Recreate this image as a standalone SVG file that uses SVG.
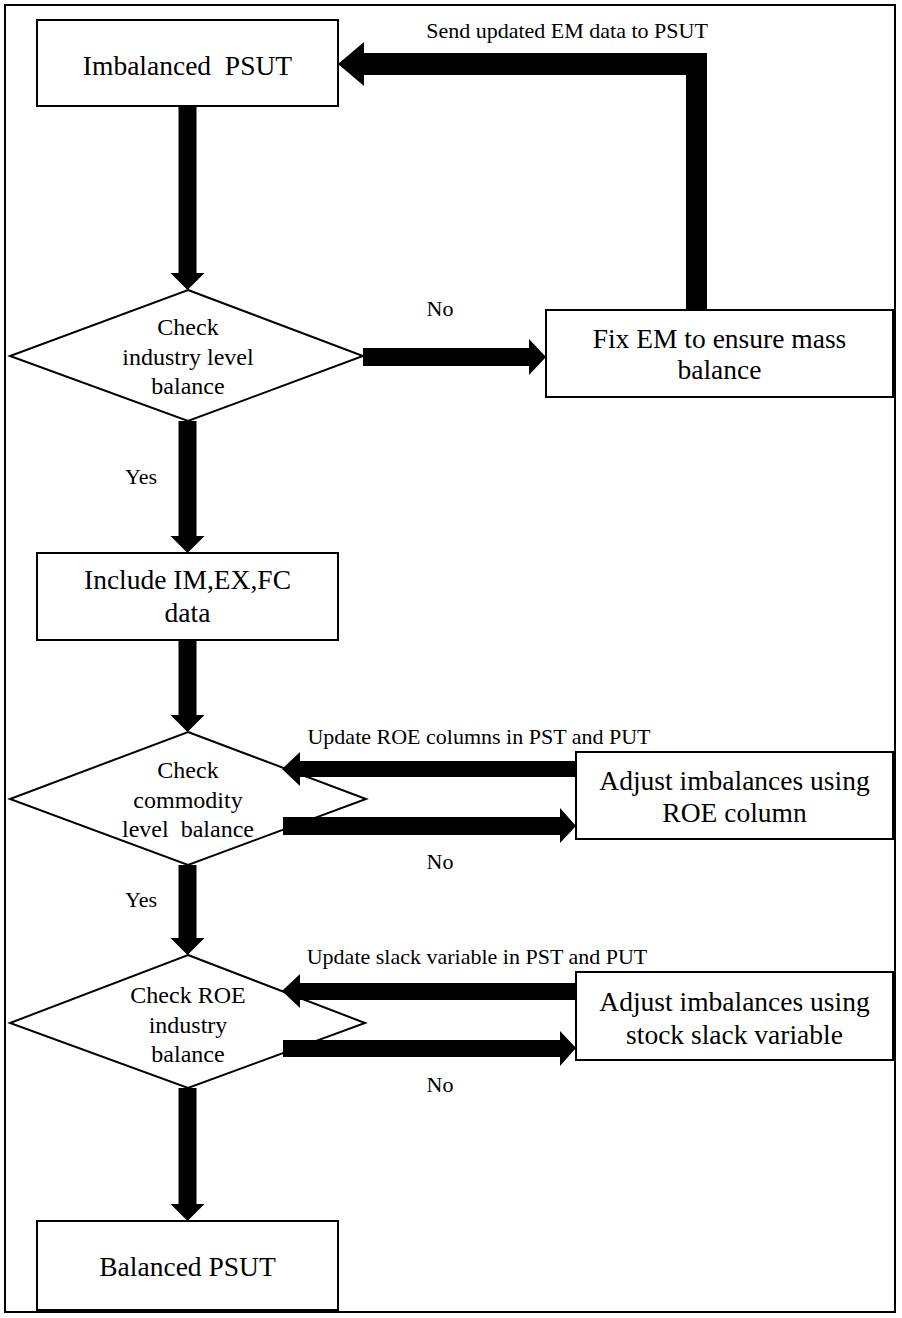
<svg xmlns="http://www.w3.org/2000/svg" width="902" height="1318" viewBox="0 0 902 1318">
<style>
.frame{fill:none;stroke:#000;stroke-width:2}
.box{fill:#fff;stroke:#000;stroke-width:2}
.arrow{fill:#000;stroke:none}
.bt{font-family:"Liberation Serif","Times New Roman",serif;font-size:27.5px;fill:#000;text-anchor:middle}
.dt{font-family:"Liberation Serif","Times New Roman",serif;font-size:24px;fill:#000;text-anchor:middle}
.lb{font-family:"Liberation Serif","Times New Roman",serif;font-size:22px;fill:#000;text-anchor:middle}
</style>
<rect width="902" height="1318" fill="#fff"/>
<rect class="frame" x="5" y="5" width="890" height="1307"/>

<g id="n_imbalanced">
<rect class="box" x="37" y="20" width="301" height="86"/>
<text class="bt" x="187.5" y="75" xml:space="preserve">Imbalanced  PSUT</text>
</g>
<g id="n_check_industry">
<polygon class="box" points="188,290 363,356 188,421 10,356"/>
<text class="dt" x="188" y="335">Check</text>
<text class="dt" x="188" y="365">industry level</text>
<text class="dt" x="188" y="394">balance</text>
</g>
<g id="n_fix_em">
<rect class="box" x="546" y="310" width="347" height="87"/>
<text class="bt" x="719.5" y="348">Fix EM to ensure mass</text>
<text class="bt" x="719.5" y="379">balance</text>
</g>
<g id="n_include">
<rect class="box" x="37" y="553" width="301" height="87"/>
<text class="bt" x="187.5" y="589">Include IM,EX,FC</text>
<text class="bt" x="187.5" y="622">data</text>
</g>
<g id="n_check_commodity">
<polygon class="box" points="188,732 366,799 188,865 10,799"/>
<text class="dt" x="188" y="778">Check</text>
<text class="dt" x="188" y="808">commodity</text>
<text class="dt" x="188" y="837" xml:space="preserve">level  balance</text>
</g>
<g id="n_adjust_roe">
<rect class="box" x="576" y="752" width="317" height="87"/>
<text class="bt" x="734.5" y="790">Adjust imbalances using</text>
<text class="bt" x="734.5" y="822">ROE column</text>
</g>
<g id="n_check_roe">
<polygon class="box" points="188,955 365,1023 188,1088 10,1023"/>
<text class="dt" x="188" y="1003">Check ROE</text>
<text class="dt" x="188" y="1033">industry</text>
<text class="dt" x="188" y="1062">balance</text>
</g>
<g id="n_adjust_slack">
<rect class="box" x="576" y="972" width="317" height="88"/>
<text class="bt" x="734.5" y="1011">Adjust imbalances using</text>
<text class="bt" x="734.5" y="1044">stock slack variable</text>
</g>
<g id="n_balanced">
<rect class="box" x="37" y="1221" width="301" height="89"/>
<text class="bt" x="187.5" y="1276">Balanced PSUT</text>
</g>

<g id="connectors">
<polygon class="arrow" points="178.5,106 196.5,106 196.5,273 204.5,273 187.5,290 170.5,273 178.5,273"/>
<polygon class="arrow" points="178.5,421 196.5,421 196.5,536 204.5,536 187.5,553 170.5,536 178.5,536"/>
<polygon class="arrow" points="178.5,640 196.5,640 196.5,715 204.5,715 187.5,732 170.5,715 178.5,715"/>
<polygon class="arrow" points="178.5,865 196.5,865 196.5,938 204.5,938 187.5,955 170.5,938 178.5,938"/>
<polygon class="arrow" points="178.5,1088 196.5,1088 196.5,1204 204.5,1204 187.5,1221 170.5,1204 178.5,1204"/>
<polygon class="arrow" points="363,348 529,348 529,339 546,357 529,375 529,366 363,366"/>
<polygon class="arrow" points="686,310 707,310 707,53 364,53 364,42 338,64 364,86 364,75 686,75"/>
<polygon class="arrow" points="576,761 300,761 300,752 282,769 300,786 300,777 576,777"/>
<polygon class="arrow" points="283,817 560,817 560,808 576,826 560,843 560,835 283,835"/>
<polygon class="arrow" points="576,983 300,983 300,974 282,991 300,1008 300,1000 576,1000"/>
<polygon class="arrow" points="283,1040 560,1040 560,1031 576,1048 560,1066 560,1057 283,1057"/>
<text class="lb" x="567" y="38">Send updated EM data to PSUT</text>
<text class="lb" x="440" y="316">No</text>
<text class="lb" x="141" y="484">Yes</text>
<text class="lb" x="479" y="744">Update ROE columns in PST and PUT</text>
<text class="lb" x="440" y="869">No</text>
<text class="lb" x="141" y="907">Yes</text>
<text class="lb" x="477" y="964">Update slack variable in PST and PUT</text>
<text class="lb" x="440" y="1092">No</text>
</g>
</svg>
